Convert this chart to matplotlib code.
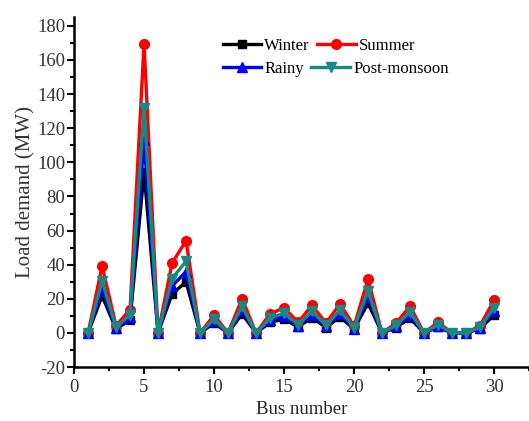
import matplotlib
matplotlib.use('Agg')
import matplotlib.pyplot as plt
import matplotlib.ticker as ticker

# Lastdaten je Bus (MW)
bus = list(range(1, 31))
winter = [0, 21.7, 2.4, 7.6, 94.2, 0, 22.8, 30.0, 0, 5.8, 0, 11.2, 0, 6.2, 8.2,
          3.5, 9.0, 3.2, 9.5, 2.2, 17.5, 0, 3.2, 8.7, 0, 3.5, 0, 0, 2.4, 10.6]
summer = [0, 39.1, 4.3, 13.7, 169.6, 0, 41.0, 54.0, 0, 10.4, 0, 20.2, 0, 11.2, 14.8,
          6.3, 16.2, 5.8, 17.1, 4.0, 31.5, 0, 5.8, 15.7, 0, 6.3, 0, 0, 4.3, 19.1]
rainy = [0, 26.0, 2.9, 9.1, 113.0, 0, 27.4, 36.0, 0, 7.0, 0, 13.4, 0, 7.4, 9.8,
         4.2, 10.8, 3.8, 11.4, 2.6, 21.0, 0, 3.8, 10.4, 0, 4.2, 0, 0, 2.9, 12.7]
post_monsoon = [0, 30.4, 3.4, 10.6, 131.9, 0, 31.9, 42.0, 0, 8.1, 0, 15.7, 0, 8.7, 11.5,
                4.9, 12.6, 4.5, 13.3, 3.1, 24.5, 0, 4.5, 12.2, 0, 4.9, 0, 0, 3.4, 14.8]

plt.rcParams['font.family'] = ['Liberation Serif', 'DejaVu Serif']
plt.rcParams['axes.unicode_minus'] = False

fig = plt.figure(figsize=(5.29, 4.21), dpi=100)
ax = fig.add_axes([0.140, 0.128, 0.86, 0.831])

lw = 2.4
l1, = ax.plot(bus, winter, color='black', marker='s', ms=5.5, lw=lw, label='Winter')
l2, = ax.plot(bus, summer, color='#ff0000', marker='o', ms=7, lw=lw, label='Summer')
l3, = ax.plot(bus, rainy, color='#0000ff', marker='^', ms=7, lw=lw, label='Rainy')
l4, = ax.plot(bus, post_monsoon, color='#138a84', marker='v', ms=7, lw=lw, label='Post-monsoon')

ax.set_xlim(0, 32.5)
ax.set_ylim(-20, 185)
ax.xaxis.set_major_locator(ticker.MultipleLocator(5))
ax.xaxis.set_minor_locator(ticker.MultipleLocator(2.5))
ax.yaxis.set_major_locator(ticker.MultipleLocator(20))
ax.yaxis.set_minor_locator(ticker.MultipleLocator(10))

for s in ['top', 'right']:
    ax.spines[s].set_visible(False)
for s in ['left', 'bottom']:
    ax.spines[s].set_linewidth(1.8)

ax.tick_params(which='major', direction='out', length=5, width=1.5, labelsize=13.5, colors='black')
ax.tick_params(which='minor', direction='out', length=3, width=1.5)
ax.tick_params(axis='y', pad=1.5)
for lab in ax.get_xticklabels() + ax.get_yticklabels():
    lab.set_color('#333333')

ax.set_xlabel('Bus number', fontsize=13.5, color='#222222')
ax.set_ylabel('Load demand (MW)', fontsize=15, color='#333333', labelpad=1)

# Legende: zwei Zeilen, Einträge fließend hintereinander wie in Origin
leg_kw = dict(ncol=2, frameon=False, loc='upper left', bbox_transform=fig.transFigure,
              fontsize=12, handlelength=2.3, handletextpad=0.2, columnspacing=0.45,
              borderpad=0)
leg1 = ax.legend([l1, l2], ['Winter', 'Summer'], bbox_to_anchor=(0.405, 0.93), **leg_kw)
ax.add_artist(leg1)
ax.legend([l3, l4], ['Rainy', 'Post-monsoon'], bbox_to_anchor=(0.405, 0.875), **leg_kw)

fig.savefig('out.png', dpi=100)
